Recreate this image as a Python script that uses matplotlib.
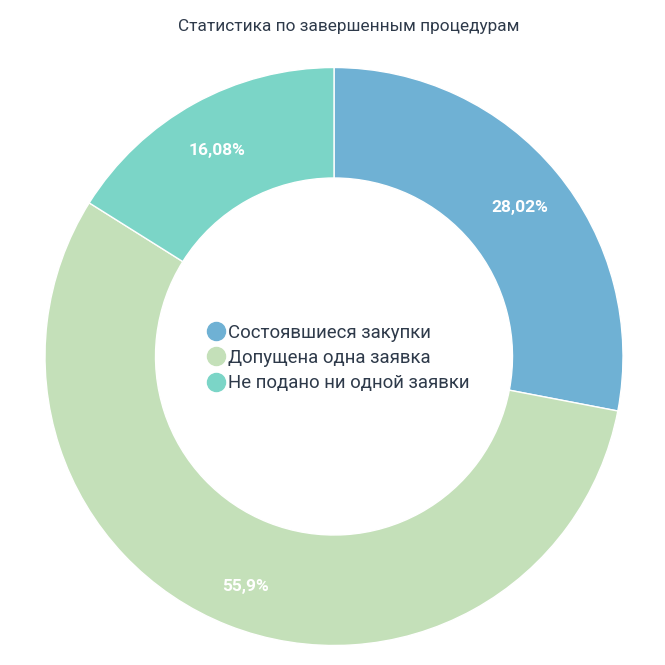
import matplotlib.pyplot as plt
from matplotlib.lines import Line2D

plt.rcParams['font.family'] = ['Roboto', 'DejaVu Sans']

categories = ['Состоявшиеся закупки', 'Допущена одна заявка', 'Не подано ни одной заявки']
values = [28.02, 55.9, 16.08]
colors = ['#6fb1d4', '#c4e0b9', '#7bd5c7']
title = 'Статистика по завершенным процедурам'

fig = plt.figure(figsize=(6.65, 6.65), dpi=100)
ax = fig.add_axes([0, 0, 1, 1])

def fmt(v):
    s = ('%.2f' % v).rstrip('0').rstrip('.')
    return s.replace('.', ',') + '%'

wedges, texts = ax.pie(values, colors=colors, startangle=90, counterclock=False,
                       center=(334, 308.5), radius=289,
                       labels=[fmt(v) for v in values], labeldistance=0.835,
                       wedgeprops=dict(width=110.5, edgecolor='white', linewidth=1),
                       textprops=dict(color='white', fontsize=12.5, fontweight='bold'))
for t in texts:
    t.set_horizontalalignment('center')
    t.set_verticalalignment('center')
    x, y = t.get_position()
    t.set_position((x, y - 5))

ax.set_xlim(0, 665)
ax.set_ylim(0, 665)
ax.set_aspect('equal')
ax.axis('off')

fig.text(348.5 / 665, 1 - 27 / 665, title, ha='center', va='center', fontsize=12.4, color='#2e3a4a')

handles = [Line2D([0], [0], marker='o', linestyle='none', markersize=13,
                  markerfacecolor=c, markeredgecolor=c) for c in colors]
leg = ax.legend(handles, categories, loc='center', bbox_to_anchor=(339 / 665, 1 - 358 / 665),
                bbox_transform=fig.transFigure, frameon=False, fontsize=13.4,
                handlelength=0.8, handletextpad=0.25, labelspacing=0.38, borderpad=0)
for t in leg.get_texts():
    t.set_color('#2e3a4a')

fig.savefig('out.png', dpi=100, facecolor='white')
